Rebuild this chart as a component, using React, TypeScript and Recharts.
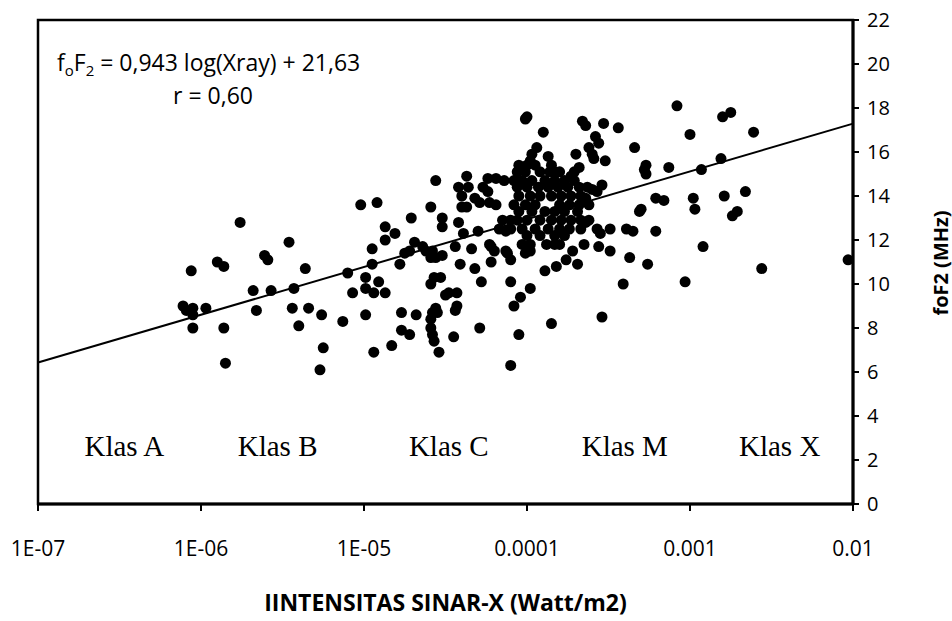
import { ScatterChart, Scatter, XAxis, YAxis, ReferenceArea, ReferenceDot } from 'recharts';

// log10(Xray) , foF2 (MHz), dikelompokkan per kelas flare
const pointsB: [number, number][] = [
  [-6.11, 9.0], [-6.09, 8.8], [-6.05, 8.9], [-6.05, 8.6], [-6.06, 10.6], [-5.97, 8.9], [-6.05, 8.0],
  [-5.86, 8.0], [-5.85, 6.4], [-5.9, 11.0], [-5.86, 10.8], [-5.76, 12.8], [-5.68, 9.7], [-5.66, 8.8],
  [-5.61, 11.3], [-5.59, 11.1], [-5.57, 9.7], [-5.46, 11.9], [-5.43, 9.8], [-5.44, 8.9], [-5.36, 10.7],
  [-5.34, 8.9], [-5.4, 8.1], [-5.26, 8.6], [-5.25, 7.1], [-5.27, 6.1], [-5.13, 8.3], [-5.1, 10.5],
  [-5.07, 9.6], [-5.02, 13.6],
];

const pointsC: [number, number][] = [
  [-4.99, 10.3], [-4.99, 9.8], [-4.94, 9.6], [-4.91, 10.1], [-4.87, 9.6], [-4.99, 8.6], [-4.95, 11.6],
  [-4.95, 10.9], [-4.87, 12.6], [-4.81, 12.3], [-4.87, 12.0], [-4.92, 13.7], [-4.71, 13.0], [-4.59, 13.5],
  [-4.78, 10.9], [-4.77, 8.7], [-4.68, 8.6], [-4.77, 7.9], [-4.72, 7.7], [-4.83, 7.2], [-4.94, 6.9],
  [-4.54, 6.9], [-4.69, 11.9], [-4.75, 11.4], [-4.72, 11.5], [-4.64, 11.7], [-4.62, 11.5], [-4.58, 11.5],
  [-4.59, 11.2], [-4.56, 11.2], [-4.52, 11.3], [-4.52, 13.0], [-4.52, 12.6], [-4.57, 10.3], [-4.53, 10.3],
  [-4.59, 10.0], [-4.5, 9.5], [-4.56, 8.9], [-4.58, 8.7], [-4.59, 8.4], [-4.59, 8.0], [-4.58, 7.7],
  [-4.57, 7.4], [-4.55, 8.7], [-4.56, 14.7], [-4.48, 9.6], [-4.43, 9.6], [-4.43, 9.0], [-4.44, 8.8],
  [-4.45, 7.6], [-4.41, 10.9], [-4.32, 10.7], [-4.28, 10.1], [-4.29, 8.0], [-4.1, 10.1], [-4.04, 9.4],
  [-4.08, 9.0], [-4.05, 7.7], [-4.1, 6.3], [-4.37, 14.9], [-4.24, 14.8], [-4.19, 14.8], [-4.14, 14.7],
  [-4.42, 14.4], [-4.36, 14.4], [-4.27, 14.4], [-4.24, 14.2], [-4.4, 14.0], [-4.32, 13.9], [-4.29, 13.7],
  [-4.37, 13.5], [-4.4, 13.5], [-4.19, 13.6], [-4.23, 13.7], [-4.42, 12.8], [-4.39, 12.3], [-4.3, 12.4],
  [-4.15, 12.9], [-4.17, 12.5], [-4.13, 12.4], [-4.1, 12.9], [-4.1, 12.5], [-4.44, 11.7], [-4.34, 11.6],
  [-4.23, 11.8], [-4.22, 11.7], [-4.2, 11.5], [-4.13, 11.5], [-4.22, 11.0], [-4.1, 11.1], [-4.12, 11.4],
  [-4.03, 11.8], [-4.01, 11.4], [-4.05, 15.4], [-4.06, 15.1], [-4.01, 15.1], [-4.08, 14.7], [-4.03, 14.7],
  [-4.06, 14.4], [-4.05, 14.0], [-4.08, 13.6], [-4.01, 13.6], [-4.05, 13.3], [-4.06, 12.9], [-4.03, 12.5],
];

const pointsM: [number, number][] = [
  [-4.0, 17.6], [-4.01, 17.5], [-3.9, 16.9], [-3.98, 9.8], [-3.85, 8.2], [-3.54, 8.5], [-3.89, 10.6],
  [-3.82, 10.8], [-3.76, 11.1], [-3.69, 10.9], [-3.72, 11.5], [-3.65, 11.8], [-3.56, 11.7], [-3.49, 11.5],
  [-3.37, 11.2], [-3.26, 10.9], [-3.41, 10.0], [-3.62, 12.9], [-3.57, 12.5], [-3.55, 12.3], [-3.49, 12.5],
  [-3.39, 12.5], [-3.35, 12.4], [-3.21, 12.4], [-3.21, 13.9], [-3.16, 13.8], [-3.3, 13.4], [-3.31, 13.3],
  [-3.54, 14.5], [-3.57, 14.2], [-3.27, 15.4], [-3.28, 15.2], [-3.27, 15.0], [-3.13, 15.3], [-3.34, 16.2],
  [-3.08, 18.1], [-3.0, 16.8], [-3.03, 10.1], [-3.44, 17.1], [-3.53, 17.3], [-3.66, 17.4], [-3.64, 17.2],
  [-3.58, 16.7], [-3.56, 16.4], [-3.62, 16.2], [-3.6, 15.9], [-3.59, 15.7], [-3.52, 15.6], [-3.94, 16.2],
  [-3.97, 15.9], [-3.98, 15.6], [-3.87, 15.8], [-3.85, 15.4], [-3.7, 15.9], [-3.68, 15.3], [-3.71, 15.1],
  [-3.73, 14.9], [-3.83, 15.1], [-3.98, 11.5], [-3.98, 11.8], [-3.88, 11.8], [-3.83, 11.8], [-3.8, 11.8],
  [-3.67, 12.5], [-3.64, 12.8], [-3.6, 14.3], [-3.64, 13.9],
  [-4.0, 15.4], [-3.95, 15.4], [-3.92, 15.1], [-3.86, 15.1], [-3.8, 15.1], [-3.97, 14.7], [-3.89, 14.7],
  [-3.83, 14.7], [-3.77, 14.7], [-3.71, 14.7], [-4.0, 14.4], [-3.93, 14.4], [-3.87, 14.4], [-3.81, 14.4],
  [-3.75, 14.4], [-3.68, 14.4], [-3.63, 14.4], [-3.98, 14.0], [-3.92, 14.0], [-3.85, 14.0], [-3.79, 14.0],
  [-3.73, 14.0], [-3.67, 14.0], [-3.95, 13.6], [-3.8, 13.6], [-3.74, 13.6], [-3.68, 13.6], [-3.62, 13.6],
  [-3.97, 13.3], [-3.89, 13.3], [-3.83, 13.3], [-3.77, 13.3], [-3.69, 13.3], [-4.0, 12.9], [-3.92, 12.9],
  [-3.85, 12.9], [-3.79, 12.9], [-3.73, 12.9], [-3.67, 12.9], [-3.95, 12.5], [-3.87, 12.5], [-3.8, 12.5],
  [-3.74, 12.5], [-4.0, 12.2], [-3.92, 12.2], [-3.83, 12.2], [-3.77, 12.2],
];

const pointsX: [number, number][] = [
  [-2.98, 13.9], [-2.97, 13.4], [-2.8, 17.6], [-2.75, 17.8], [-2.61, 16.9], [-2.81, 15.7], [-2.93, 15.2],
  [-2.79, 14.0], [-2.66, 14.2], [-2.74, 13.1], [-2.71, 13.3], [-2.92, 11.7], [-2.56, 10.7], [-2.03, 11.1],
];

// garis regresi foF2 = 0,943 ln(Xray) + 21,63 di ujung sumbu
const trendLine = [
  { x: -7, y: 6.43 },
  { x: -2, y: 17.29 },
];

const xTicks = [-7, -6, -5, -4, -3, -2];
const xTickLabels = ['1E-07', '1E-06', '1E-05', '0.0001', '0.001', '0.01'];
const yTicks = [0, 2, 4, 6, 8, 10, 12, 14, 16, 18, 20, 22];

const klasLabels = [
  { name: 'Klas A', x: -6.47 },
  { name: 'Klas B', x: -5.53 },
  { name: 'Klas C', x: -4.48 },
  { name: 'Klas M', x: -3.4 },
  { name: 'Klas X', x: -2.45 },
];

const sans = "'Open Sans', 'Noto Sans', sans-serif";
const serif = "'Liberation Serif', 'DejaVu Serif', serif";

const allPoints = [...pointsB, ...pointsC, ...pointsM, ...pointsX].map(([x, y]) => ({ x, y }));

const Dot = (props: { cx?: number; cy?: number }) => <circle cx={props.cx} cy={props.cy} r={5.5} fill="#000" />;

export default function App() {
  return (
    <div style={{ position: 'absolute', left: 0, top: 0, width: 952, height: 621, background: '#fff' }}>
      <ScatterChart width={952} height={621} margin={{ top: 20, right: 39, bottom: 0, left: 38 }}>
        <XAxis
          type="number"
          dataKey="x"
          domain={[-7, -2]}
          ticks={xTicks}
          tickFormatter={(v: number) => xTickLabels[xTicks.indexOf(v)] ?? ''}
          height={117}
          axisLine={{ stroke: '#000', strokeWidth: 3 }}
          tickLine={{ stroke: '#000', strokeWidth: 2 }}
          tickSize={7}
          tickMargin={30}
          tick={{ fill: '#000', fontSize: 21, fontFamily: sans }}
          label={{
            value: 'IINTENSITAS SINAR-X (Watt/m2)',
            position: 'insideBottom',
            offset: 10,
            fill: '#000',
            fontSize: 23,
            fontWeight: 'bold',
            fontFamily: sans,
          }}
        />
        <YAxis
          type="number"
          dataKey="y"
          orientation="right"
          domain={[0, 22]}
          ticks={yTicks}
          width={60}
          axisLine={{ stroke: '#000', strokeWidth: 3 }}
          tickLine={{ stroke: '#000', strokeWidth: 2 }}
          tickSize={6}
          tickMargin={8}
          tick={{ fill: '#000', fontSize: 20, fontFamily: sans }}
        />
        <ReferenceArea x1={-7} x2={-2} y1={0} y2={22} fill="none" stroke="#000" strokeWidth={2.5} ifOverflow="visible" />
        {klasLabels.map((k) => (
          <ReferenceDot
            key={k.name}
            x={k.x}
            y={2.65}
            r={0}
            fill="none"
            stroke="none"
            label={{ value: k.name, position: 'center', fill: '#000', fontSize: 29, fontFamily: serif }}
          />
        ))}
        <Scatter data={trendLine} line={{ stroke: '#000', strokeWidth: 2 }} shape={() => null} isAnimationActive={false} />
        <Scatter data={allPoints} shape={<Dot />} isAnimationActive={false} />
      </ScatterChart>
      <svg width={952} height={621} style={{ position: 'absolute', left: 0, top: 0, pointerEvents: 'none' }}>
        <text x={57} y={71} fontFamily={sans} fontSize={23} fill="#000">
          f<tspan fontSize={15} dy={5}>o</tspan>
          <tspan dy={-5}>F</tspan>
          <tspan fontSize={15} dy={5}>2</tspan>
          <tspan dy={-5}> = 0,943 log(Xray) + 21,63</tspan>
        </text>
        <text x={213} y={104} fontFamily={sans} fontSize={23} fill="#000" textAnchor="middle">
          r = 0,60
        </text>
        <text
          transform="translate(940,263) rotate(-90)"
          textAnchor="middle"
          dominantBaseline="central"
          fontFamily={sans}
          fontSize={20}
          fontWeight="bold"
          fill="#000"
        >
          foF2 (MHz)
        </text>
      </svg>
    </div>
  );
}
